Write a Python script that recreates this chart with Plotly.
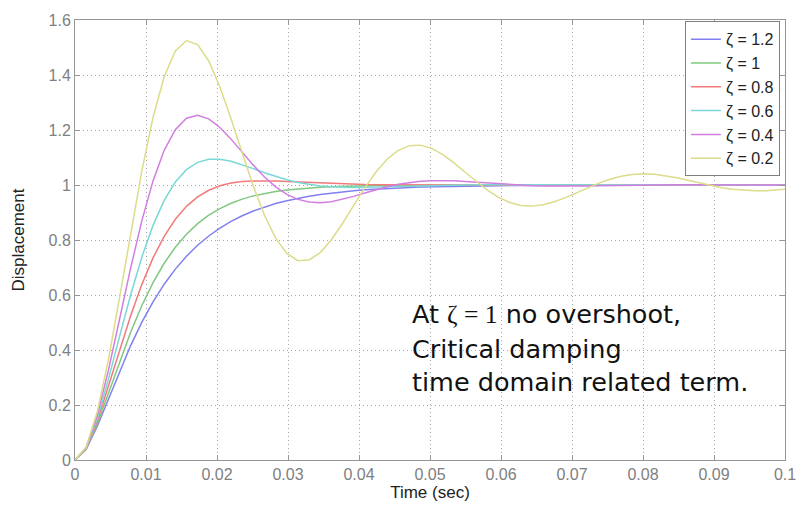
import plotly.graph_objects as go

# Step responses (sample interval ~0.00157 s)
T0 = 0.0
DT = 0.00157

LABELS = ["ζ = 1.2", "ζ = 1", "ζ = 0.8", "ζ = 0.6", "ζ = 0.4", "ζ = 0.2"]

Y_Z12 = [0, 0.0387, 0.1230, 0.2229, 0.3233, 0.4171, 0.5013, 0.5752, 0.6392, 0.6941,
         0.7409, 0.7808, 0.8146, 0.8433, 0.8675, 0.8881, 0.9054, 0.9201, 0.9325, 0.9429,
         0.9518, 0.9593, 0.9656, 0.9709, 0.9754, 0.9792, 0.9825, 0.9852, 0.9875, 0.9894,
         0.9911, 0.9925, 0.9936, 0.9946, 0.9954, 0.9962, 0.9968, 0.9973, 0.9977, 0.9980,
         0.9983, 0.9986, 0.9988, 0.9990, 0.9992, 0.9993, 0.9994, 0.9995, 0.9996, 0.9996,
         0.9997, 0.9997, 0.9998, 0.9998, 0.9998, 0.9999, 0.9999, 0.9999, 0.9999, 0.9999,
         0.9999, 0.9999, 0.9999, 0.9999, 0.9999]

Y_Z10 = [0, 0.0401, 0.1313, 0.2431, 0.3577, 0.4656, 0.5620, 0.6452, 0.7154, 0.7735,
         0.8210, 0.8594, 0.8901, 0.9144, 0.9336, 0.9487, 0.9605, 0.9696, 0.9767, 0.9822,
         0.9864, 0.9896, 0.9921, 0.9940, 0.9955, 0.9966, 0.9974, 0.9980, 0.9985, 0.9989,
         0.9992, 0.9994, 0.9995, 0.9996, 0.9997, 0.9998, 0.9998, 0.9999, 0.9999, 0.9999,
         1.0, 1.0, 1.0, 1.0, 1.0, 1.0, 1.0, 1.0, 1.0, 1.0,
         1.0, 1.0, 1.0, 1.0, 1.0, 1.0, 1.0, 1.0, 1.0, 1.0,
         1.0, 1.0, 1.0, 1.0, 1.0]

Y_Z08 = [0, 0.0417, 0.1406, 0.2666, 0.3992, 0.5257, 0.6387, 0.7348, 0.8134, 0.8753,
         0.9223, 0.9567, 0.9809, 0.9970, 1.0069, 1.0124, 1.0148, 1.0151, 1.0141, 1.0124,
         1.0105, 1.0085, 1.0066, 1.0050, 1.0036, 1.0025, 1.0016, 1.0010, 1.0005, 1.0002,
         1.0000, 0.9999, 0.9998, 0.9998, 0.9998, 0.9998, 0.9998, 0.9999, 0.9999, 0.9999,
         0.9999, 0.9999, 0.9999, 1.0, 1.0, 1.0, 1.0, 1.0, 1.0, 1.0,
         1.0, 1.0, 1.0, 1.0, 1.0, 1.0, 1.0, 1.0, 1.0, 1.0,
         1.0, 1.0, 1.0, 1.0, 1.0]

Y_Z06 = [0, 0.0433, 0.1511, 0.2942, 0.4500, 0.6017, 0.7382, 0.8531, 0.9440, 1.0109,
         1.0559, 1.0822, 1.0935, 1.0937, 1.0861, 1.0740, 1.0596, 1.0448, 1.0311, 1.0191,
         1.0093, 1.0019, 0.9966, 0.9933, 0.9915, 0.9910, 0.9914, 0.9924, 0.9937, 0.9951,
         0.9964, 0.9976, 0.9987, 0.9995, 1.0001, 1.0005, 1.0007, 1.0008, 1.0008, 1.0008,
         1.0007, 1.0005, 1.0004, 1.0003, 1.0002, 1.0001, 1.0000, 1.0000, 0.9999, 0.9999,
         1.0, 1.0, 1.0, 1.0, 1.0, 1.0, 1.0, 1.0, 1.0, 1.0,
         1.0, 1.0, 1.0, 1.0, 1.0]

Y_Z04 = [0, 0.0451, 0.1628, 0.3268, 0.5127, 0.6994, 0.8706, 1.0150, 1.1260, 1.2014,
         1.2427, 1.2537, 1.2404, 1.2092, 1.1668, 1.1194, 1.0722, 1.0293, 0.9933, 0.9659,
         0.9476, 0.9379, 0.9357, 0.9395, 0.9478, 0.9587, 0.9708, 0.9827, 0.9935, 1.0024,
         1.0092, 1.0136, 1.0159, 1.0163, 1.0152, 1.0130, 1.0102, 1.0071, 1.0041, 1.0014,
         0.9992, 0.9976, 0.9965, 0.9959, 0.9959, 0.9962, 0.9967, 0.9975, 0.9983, 0.9990,
         0.9997, 1.0002, 1.0007, 1.0009, 1.0010, 1.0010, 1.0010, 1.0008, 1.0006, 1.0004,
         1.0002, 1.0001, 0.9999, 0.9998, 0.9998]

Y_Z02 = [0, 0.0470, 0.1760, 0.3657, 0.5910, 0.8279, 1.0523, 1.2456, 1.3932, 1.4873,
         1.5255, 1.5109, 1.4510, 1.3567, 1.2407, 1.1162, 0.9958, 0.8900, 0.8068, 0.7512,
         0.7250, 0.7273, 0.7543, 0.8008, 0.8601, 0.9257, 0.9896, 1.0473, 1.0938, 1.1262,
         1.1432, 1.1450, 1.1333, 1.1106, 1.0805, 1.0465, 1.0123, 0.9810, 0.9551, 0.9364,
         0.9258, 0.9232, 0.9280, 0.9389, 0.9541, 0.9717, 0.9899, 1.0068, 1.0211, 1.0318,
         1.0383, 1.0405, 1.0387, 1.0336, 1.0260, 1.0169, 1.0073, 0.9982, 0.9903, 0.9842,
         0.9804, 0.9787, 0.9793, 0.9816, 0.9854]

SERIES = [Y_Z12, Y_Z10, Y_Z08, Y_Z06, Y_Z04, Y_Z02]
COLORS = ["#8080f2", "#80c880", "#f27a7a", "#7ad8d8", "#d27ee0", "#dcdc8a"]

X_TICKS = [0, 0.01, 0.02, 0.03, 0.04, 0.05, 0.06, 0.07, 0.08, 0.09, 0.1]
X_TICK_TEXT = ["0", "0.01", "0.02", "0.03", "0.04", "0.05", "0.06", "0.07", "0.08", "0.09", "0.1"]
Y_TICKS = [0, 0.2, 0.4, 0.6, 0.8, 1.0, 1.2, 1.4, 1.6]
Y_TICK_TEXT = ["0", "0.2", "0.4", "0.6", "0.8", "1", "1.2", "1.4", "1.6"]

fig = go.Figure()
for i, (lab, ys, col) in enumerate(zip(LABELS, SERIES, COLORS)):
    fig.add_trace(go.Scatter(
        x0=T0, dx=DT, y=ys, mode="lines", name=lab,
        line=dict(color=col, width=1.5),
        legendgroup=f"g{i}",
    ))

axis_gray = "#969696"
grid_gray = "#a8a8a8"
sans = "Liberation Sans, Arial, sans-serif"
tick_font = dict(family=sans, size=16, color="#808080")
title_font = dict(family=sans, size=17, color="#222")

fig.update_xaxes(
    range=[0, 0.1], tickvals=X_TICKS, ticktext=X_TICK_TEXT,
    showline=True, linecolor=axis_gray, linewidth=1, mirror="ticks",
    ticks="inside", ticklen=5, tickcolor=axis_gray,
    showgrid=True, gridcolor=grid_gray, griddash="1px,3px", gridwidth=1,
    zeroline=False, tickfont=tick_font,
    title=dict(text="Time (sec)", font=title_font, standoff=0),
)
fig.update_yaxes(
    range=[0, 1.6], tickvals=Y_TICKS, ticktext=Y_TICK_TEXT,
    showline=True, linecolor=axis_gray, linewidth=1, mirror="ticks",
    ticks="inside", ticklen=5, tickcolor=axis_gray,
    showgrid=True, gridcolor=grid_gray, griddash="1px,3px", gridwidth=1,
    zeroline=False, tickfont=tick_font,
    title=dict(text="Displacement", font=title_font, standoff=19),
)

note_font = dict(family="DejaVu Sans, Verdana, sans-serif", size=25.5, color="#111")
NOTE_LINES = [
    'At <span style="font-family:Liberation Serif, Times New Roman, serif">ζ = 1</span> no overshoot,',
    "Critical damping",
    "time domain related term.",
]
NOTE_Y = [0.53, 0.405, 0.285]
for txt, yy in zip(NOTE_LINES, NOTE_Y):
    fig.add_annotation(x=0.0472, y=yy, xref="x", yref="y", text=txt, showarrow=False,
                       xanchor="left", yanchor="middle", font=note_font)

fig.update_layout(
    width=807, height=506,
    margin=dict(l=75, r=11, t=20, b=44),
    paper_bgcolor="white", plot_bgcolor="white",
    showlegend=True,
    legend=dict(
        x=0.859, y=0.997, xanchor="left", yanchor="top",
        bgcolor="white", bordercolor="#808080", borderwidth=1,
        font=dict(family=sans, size=16, color="#222"),
        tracegroupgap=0, itemwidth=30,
    ),
)

fig.write_html("out.html")
